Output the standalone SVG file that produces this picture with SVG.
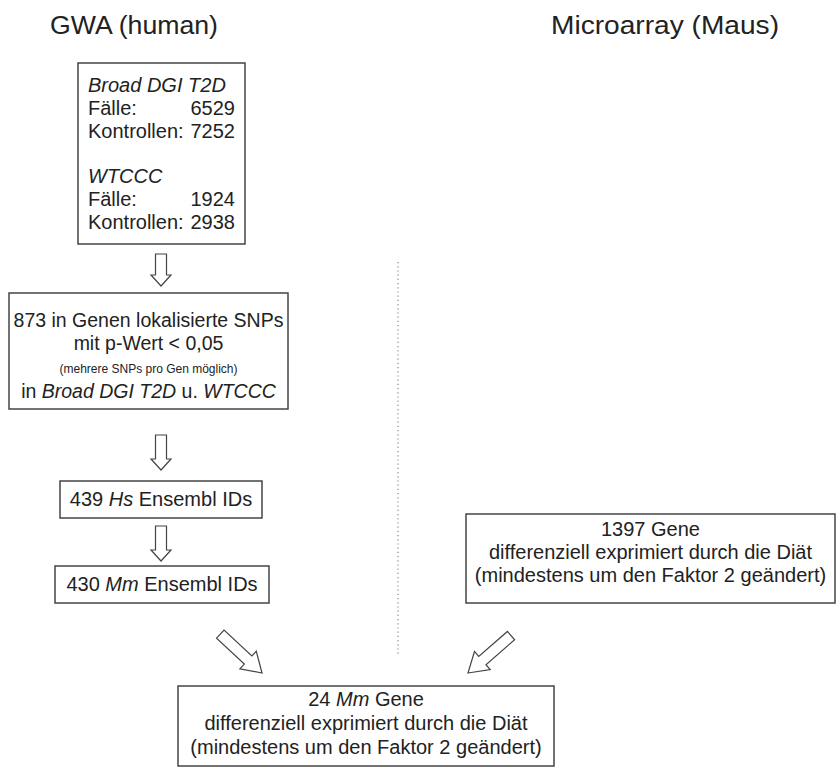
<svg xmlns="http://www.w3.org/2000/svg" width="839" height="767" viewBox="0 0 839 767">
<style>
text{font-family:"Liberation Sans",Arial,sans-serif;fill:#222;}
.t{font-size:20px;}
.s{font-size:19.5px;}
.xs{font-size:12px;}
.h{font-size:25px;}
.c{text-anchor:middle;}
.e{text-anchor:end;}
.i{font-style:italic;}
.box{fill:#fff;stroke:#444;stroke-width:1.5;}
.arr{fill:#fff;stroke:#444;stroke-width:1.2;stroke-linejoin:miter;}
</style>
<rect width="839" height="767" fill="#fff"/>
<g id="titles">
<text class="h" x="50" y="34" textLength="168" lengthAdjust="spacingAndGlyphs">GWA (human)</text>
<text class="h" x="551" y="34" textLength="228" lengthAdjust="spacingAndGlyphs">Microarray (Maus)</text>
</g>
<g id="connectors">
<line x1="398" y1="262" x2="398" y2="655" stroke="#888" stroke-width="1.2" stroke-dasharray="1.2,3"/>
<path class="arr" d="M155.5,254 L166.5,254 L166.5,275 L171,275 L161,286 L151,275 L155.5,275 Z"/>
<path class="arr" d="M155.5,435 L166.5,435 L166.5,459 L171,459 L161,470 L151,459 L155.5,459 Z"/>
<path class="arr" d="M155.5,526 L166.5,526 L166.5,550 L171,550 L161,561 L151,550 L155.5,550 Z"/>
<path class="arr" transform="translate(262,673) rotate(43)" d="M0,0 L-19,-12 L-19,-5.5 L-57,-5.5 L-57,5.5 L-19,5.5 L-19,12 Z"/>
<path class="arr" transform="translate(468,673) rotate(139)" d="M0,0 L-19,-12 L-19,-5.5 L-57,-5.5 L-57,5.5 L-19,5.5 L-19,12 Z"/>
</g>
<g id="n1">
<rect class="box" x="78" y="63" width="167" height="181"/>
<text class="t i" x="88" y="92">Broad DGI T2D</text>
<text class="t" x="88" y="115">Fälle:</text>
<text class="t e" x="235" y="115">6529</text>
<text class="t" x="88" y="138">Kontrollen:</text>
<text class="t e" x="235" y="138">7252</text>
<text class="t i" x="88" y="183">WTCCC</text>
<text class="t" x="88" y="206">Fälle:</text>
<text class="t e" x="235" y="206">1924</text>
<text class="t" x="88" y="229">Kontrollen:</text>
<text class="t e" x="235" y="229">2938</text>
</g>
<g id="n2">
<rect class="box" x="9" y="293" width="279" height="116"/>
<text class="s c" x="148.5" y="327">873 in Genen lokalisierte SNPs</text>
<text class="s c" x="148.5" y="350">mit p-Wert &lt; 0,05</text>
<text class="xs c" x="148.5" y="373">(mehrere SNPs pro Gen möglich)</text>
<text class="s c" x="148.5" y="398">in <tspan class="i">Broad DGI T2D</tspan> u. <tspan class="i">WTCCC</tspan></text>
</g>
<g id="n3">
<rect class="box" x="60" y="481" width="202" height="37"/>
<text class="t c" x="161" y="506">439 <tspan class="i">Hs</tspan> Ensembl IDs</text>
</g>
<g id="n4">
<rect class="box" x="55" y="566" width="214" height="37"/>
<text class="t c" x="162" y="591">430 <tspan class="i">Mm</tspan> Ensembl IDs</text>
</g>
<g id="n5">
<rect class="box" x="466" y="514" width="369" height="89"/>
<text class="t c" x="650.5" y="536">1397 Gene</text>
<text class="t c" x="650.5" y="559">differenziell exprimiert durch die Diät</text>
<text class="t c" x="650.5" y="582">(mindestens um den Faktor 2 geändert)</text>
</g>
<g id="n6">
<rect class="box" x="178" y="686" width="376" height="80"/>
<text class="t c" x="366" y="706">24 <tspan class="i">Mm</tspan> Gene</text>
<text class="t c" x="366" y="730">differenziell exprimiert durch die Diät</text>
<text class="t c" x="366" y="754">(mindestens um den Faktor 2 geändert)</text>
</g>
</svg>
